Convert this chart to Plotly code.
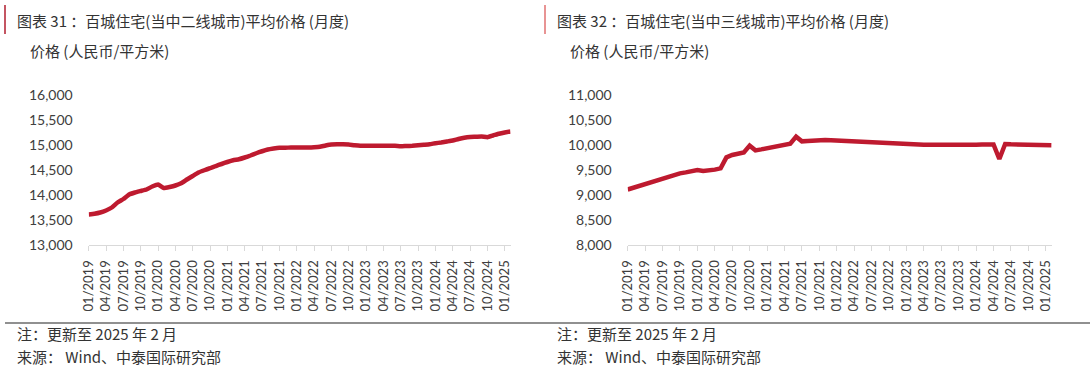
import plotly.graph_objects as go

months = [f"{m:02d}/{y}" for y in range(2019, 2026) for m in range(1, 13)][:74]

tier2_price = [
    13610, 13625, 13650, 13690, 13750, 13850, 13920, 14010, 14050, 14080, 14110, 14170,
    14210, 14140, 14160, 14190, 14235, 14310, 14380, 14450, 14495, 14535, 14580, 14620,
    14660, 14695, 14715, 14750, 14790, 14835, 14875, 14910, 14930, 14945, 14945, 14950,
    14950, 14950, 14950, 14955, 14965, 14990, 15010, 15015, 15015, 15010, 14995, 14985,
    14985, 14985, 14985, 14985, 14985, 14985, 14975, 14980, 14985, 14995, 15005, 15015,
    15035, 15050, 15070, 15090, 15120, 15145, 15160, 15165, 15170, 15155, 15190, 15225,
    15250, 15270,
]

tier3_price = [
    9110, 9147, 9187, 9227, 9260, 9293, 9327, 9360, 9400, 9433, 9453, 9480,
    9500, 9480, 9487, 9507, 9533, 9753, 9800, 9827, 9853, 9987, 9893, 9913,
    9933, 9953, 9967, 9993, 10027, 10167, 10073, 10080, 10093, 10107, 10100, 10093,
    10087, 10080, 10073, 10067, 10053, 10060, 10060, 10053, 10047, 10040, 10027, 10020,
    10013, 10010, 10008, 10007, 10005, 10003, 10000, 10000, 10000, 10000, 10002, 10003,
    10005, 10010, 10010, 10010, 9720, 10020, 10013, 10010, 10005, 9993, 9993, 9997,
    10000, 9993,
]

tick_idx = list(range(0, 74, 3))
tick_labels = [months[i] for i in tick_idx]

left_title = "图表 31 ：百城住宅(当中二线城市)平均价格 (月度)"
right_title = "图表 32 ：百城住宅(当中三线城市)平均价格 (月度)"
unit_label = "价格 (人民币/平方米)"
note_text = "注：更新至 2025 年 2 月"
source_text = "来源： Wind、中泰国际研究部"

LINE = "#be1a2f"
TXT = "#404040"
CJK = "Noto Sans CJK SC"
NUM = "Lato"
W, H = 1090, 368

x_idx = list(range(len(months)))

fig = go.Figure()
fig.add_trace(go.Scatter(x=x_idx, y=tier2_price, mode="lines",
                         line=dict(color=LINE, width=4.5, shape="spline", smoothing=0.3),
                         xaxis="x", yaxis="y", showlegend=False))
fig.add_trace(go.Scatter(x=x_idx, y=tier3_price, mode="lines",
                         line=dict(color=LINE, width=4.5),
                         xaxis="x2", yaxis="y2", showlegend=False))

ydom = [(H - 245) / H, (H - 95) / H]

def xaxis(domain, anchor):
    return dict(domain=domain, anchor=anchor, range=[0, 73], tickmode="array",
                tickvals=tick_idx, ticktext=tick_labels, tickangle=-90,
                showline=True, linecolor="#d9d9d9", linewidth=1.2,
                ticks="outside", ticklen=5, tickcolor="#d9d9d9", tickwidth=1,
                showgrid=False, zeroline=False, ticklabelstandoff=4, automargin=False,
                tickfont=dict(family=NUM, size=13, color=TXT))

def yaxis(domain, anchor, rng):
    return dict(domain=domain, anchor=anchor, range=rng, dtick=500, tickformat=",",
                showgrid=False, zeroline=False, showline=False, ticks="",
                ticklabelstandoff=15, automargin=False,
                tickfont=dict(family=NUM, size=14, color=TXT))

fig.update_layout(
    width=W, height=H, margin=dict(l=0, r=0, t=0, b=0, pad=0, autoexpand=False),
    paper_bgcolor="white", plot_bgcolor="white", template="none",
    xaxis=xaxis([88.7 / W, 510.5 / W], "y"),
    yaxis=yaxis(ydom, "x", [13000, 16000]),
    xaxis2=xaxis([627.7 / W, 1051.6 / W], "y2"),
    yaxis2=yaxis(ydom, "x2", [8000, 11000]),
)

def ann(text, x, y, size=15, color="#333333"):
    fig.add_annotation(text=text, x=x / W, y=(H - y) / H, xref="paper", yref="paper",
                       xanchor="left", yanchor="middle", showarrow=False,
                       font=dict(family=CJK, size=size, color=color))

ann(left_title, 15, 20, size=15)
ann(right_title, 555, 20, size=15)
ann(unit_label, 28, 50)
ann(unit_label, 568, 50)
ann(note_text, 15, 333)
ann(source_text, 15, 356)
ann(note_text, 555, 333)
ann(source_text, 555, 356)

fig.add_shape(type="line", xref="paper", yref="paper", x0=5 / W, x1=5 / W,
              y0=(H - 5) / H, y1=(H - 34) / H, line=dict(color="#b01c2e", width=1.5))
fig.add_shape(type="line", xref="paper", yref="paper", x0=545 / W, x1=545 / W,
              y0=(H - 5) / H, y1=(H - 34) / H, line=dict(color="#e07070", width=1.5))
fig.add_shape(type="line", xref="paper", yref="paper", x0=5 / W, x1=1,
              y0=(H - 323) / H, y1=(H - 323) / H, line=dict(color="#222222", width=1.2))

fig.write_html("out.html", config={"displayModeBar": False},
               post_script="document.body.style.margin='0';document.body.style.overflow='hidden';")
